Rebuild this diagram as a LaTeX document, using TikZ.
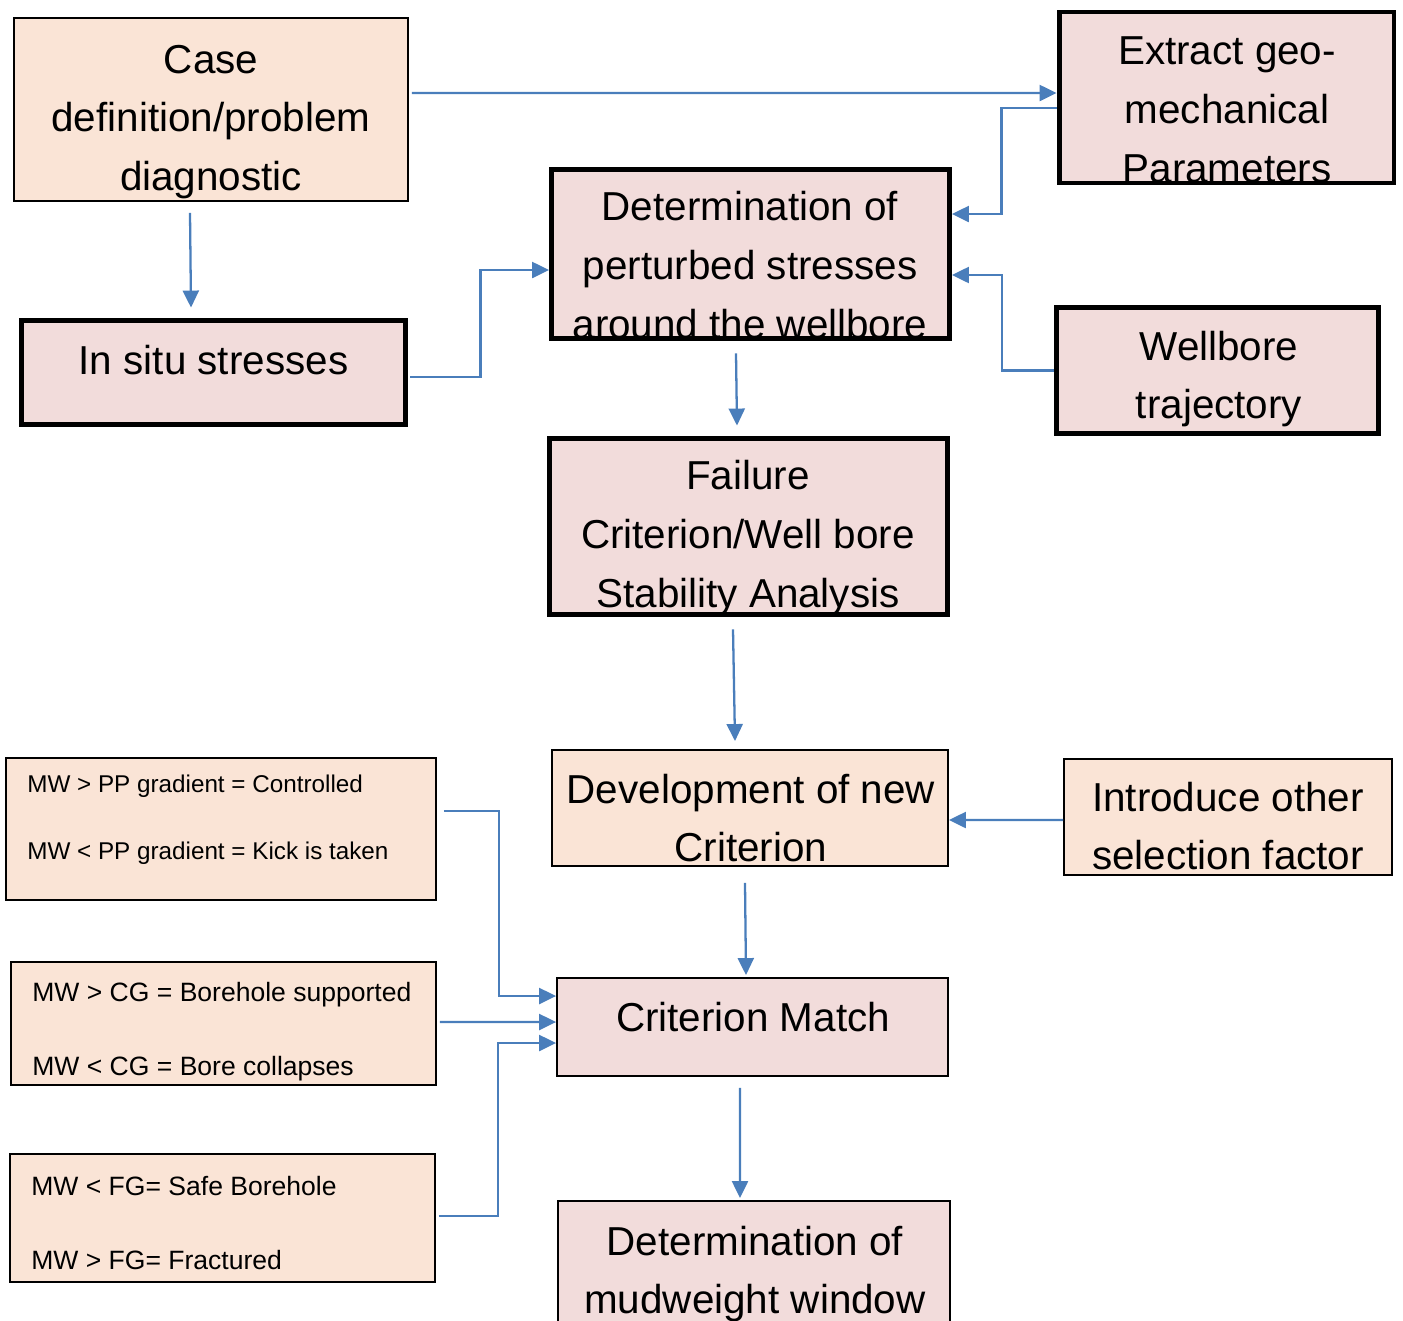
\documentclass[tikz,border=0pt]{standalone}
\usepackage{fontspec}
\setmainfont{Liberation Sans}
\usetikzlibrary{arrows.meta}
\definecolor{peachc}{RGB}{250,228,214}
\definecolor{pinkc}{RGB}{242,220,219}
\definecolor{arrowc}{RGB}{74,126,187}
\tikzset{
  thinbox/.style={draw=black, line width=1.1pt, inner sep=0pt},
  thickbox/.style={draw=black, line width=2.8pt, inner sep=0pt},
  peachfill/.style={fill=peachc},
  pinkfill/.style={fill=pinkc},
  bigtext/.style={font=\fontsize{23}{33.5}\selectfont, align=center, inner sep=0pt},
  smalltext/.style={font=\fontsize{13.8}{38}\selectfont, align=left, inner sep=0pt, anchor=west},
  midtext/.style={font=\fontsize{15.1}{42}\selectfont, align=left, inner sep=0pt, anchor=west},
  arr/.style={draw=arrowc, line width=1.3pt, -{Triangle[length=0.34cm,width=0.32cm]}}
}
\begin{document}
\begin{tikzpicture}[x=0.02cm,y=-0.02cm]
\useasboundingbox (0,0) rectangle (1403,1320);
% boxes
\node[thinbox,peachfill,minimum width=7.88cm,minimum height=3.66cm] (case) at (211,109.5) {};
\node[thickbox,pinkfill,minimum width=6.7cm,minimum height=3.42cm] (ext) at (1226.5,97.5) {};
\node[thickbox,pinkfill,minimum width=7.96cm,minimum height=3.38cm] (det) at (750.5,254) {};
\node[thickbox,pinkfill,minimum width=7.68cm,minimum height=2.08cm] (insitu) at (213.5,372.5) {};
\node[thickbox,pinkfill,minimum width=6.44cm,minimum height=2.52cm] (wb) at (1217.5,370.5) {};
\node[thickbox,pinkfill,minimum width=7.96cm,minimum height=3.52cm] (fail) at (748.5,526.5) {};
\node[thinbox,peachfill,minimum width=7.92cm,minimum height=2.32cm] (dev) at (750,808) {};
\node[thinbox,peachfill,minimum width=6.56cm,minimum height=2.32cm] (intro) at (1228,817) {};
\node[thinbox,pinkfill,minimum width=7.82cm,minimum height=1.96cm] (cm) at (752.5,1027) {};
\node[thinbox,pinkfill,minimum width=7.84cm,minimum height=2.78cm] (mud) at (754,1270.5) {};
\node[thinbox,peachfill,minimum width=8.6cm,minimum height=2.84cm] (pp) at (221,829) {};
\node[thinbox,peachfill,minimum width=8.5cm,minimum height=2.46cm] (cg) at (223.5,1023.5) {};
\node[thinbox,peachfill,minimum width=8.5cm,minimum height=2.56cm] (fg) at (222.5,1218) {};
% texts
\node[bigtext] (caseT) at (211,122) {Case\\definition/problem\\diagnostic};
\begin{scope}
\clip ([shift={(1.4pt,1.4pt)}]ext.south west) rectangle ([shift={(-1.4pt,-1.4pt)}]ext.north east);
\node[bigtext] (extT) at (1227,110) {Extract geo-\\mechanical\\Parameters};
\end{scope}
\draw[thickbox] ([shift={(1.4pt,1.4pt)}]ext.south west) rectangle ([shift={(-1.4pt,-1.4pt)}]ext.north east);
\begin{scope}
\clip ([shift={(1.4pt,1.4pt)}]det.south west) rectangle ([shift={(-1.4pt,-1.4pt)}]det.north east);
\node[bigtext] (detT) at (750,265) {Determination of\\perturbed stresses\\around the wellbore};
\end{scope}
\draw[thickbox] ([shift={(1.4pt,1.4pt)}]det.south west) rectangle ([shift={(-1.4pt,-1.4pt)}]det.north east);
\node[bigtext] (insituT) at (213.5,360) {In situ stresses};
\node[bigtext] (wbT) at (1219,379) {Wellbore\\trajectory};
\node[bigtext] (failT) at (748,538) {Failure\\Criterion/Well bore\\Stability Analysis};
\node[bigtext] (devT) at (751,818) {Development of new\\Criterion};
\node[bigtext] (introT) at (1228,826) {Introduce other\\selection factor};
\node[bigtext] (cmT) at (753,1017) {Criterion Match};
\node[bigtext] (mudT) at (755,1274) {Determination of\\mudweight window};
\node[smalltext] (ppT) at (27,820) {MW > PP gradient = Controlled\\MW < PP gradient = Kick is taken};
\node[midtext] (cgT) at (32,1032) {MW > CG = Borehole supported\\MW < CG = Bore collapses};
\node[midtext] (fgT) at (31,1223) {MW < FG= Safe Borehole\\MW > FG= Fractured};
% connectors
\draw[arr] ([xshift=0.06cm,yshift=0.33cm]case.east) -- ([yshift=0.09cm]ext.west);
\draw[arr] ([yshift=-0.21cm]ext.west) -- ++(-55,0) |- ([yshift=0.8cm]det.east);
\draw[arr] (wb.west) -- ++(-52,0) |- ([yshift=-0.42cm]det.east);
\draw[arr] ([xshift=-0.42cm,yshift=-0.22cm]case.south) -- ([xshift=-0.45cm,yshift=0.21cm]insitu.north);
\draw[arr] ([xshift=0.05cm,yshift=-0.09cm]insitu.east) -- ++(70,0) |- ([yshift=-0.32cm]det.west);
\draw[arr] ([xshift=-0.29cm,yshift=-0.25cm]det.south) -- ([xshift=-0.23cm,yshift=0.21cm]fail.north);
\draw[arr] ([xshift=-0.31cm,yshift=-0.25cm]fail.south) -- ([xshift=-0.3cm,yshift=0.16cm]dev.north);
\draw[arr] ([yshift=-0.06cm]intro.west) -- ([yshift=-0.24cm]dev.east);
\draw[arr] ([xshift=-0.1cm,yshift=-0.32cm]dev.south) -- ([xshift=-0.13cm,yshift=0.04cm]cm.north);
\draw[arr] ([xshift=0.14cm,yshift=0.36cm]pp.east) -- ++(55,0) |- ([yshift=0.62cm]cm.west);
\draw[arr] ([xshift=0.06cm,yshift=0.03cm]cg.east) -- ([yshift=0.1cm]cm.west);
\draw[arr] ([xshift=0.06cm,yshift=0.04cm]fg.east) -- ++(59,0) |- ([yshift=-0.32cm]cm.west);
\draw[arr] ([xshift=-0.25cm,yshift=-0.22cm]cm.south) -- ([xshift=-0.28cm,yshift=0.04cm]mud.north);
\end{tikzpicture}
\end{document}
